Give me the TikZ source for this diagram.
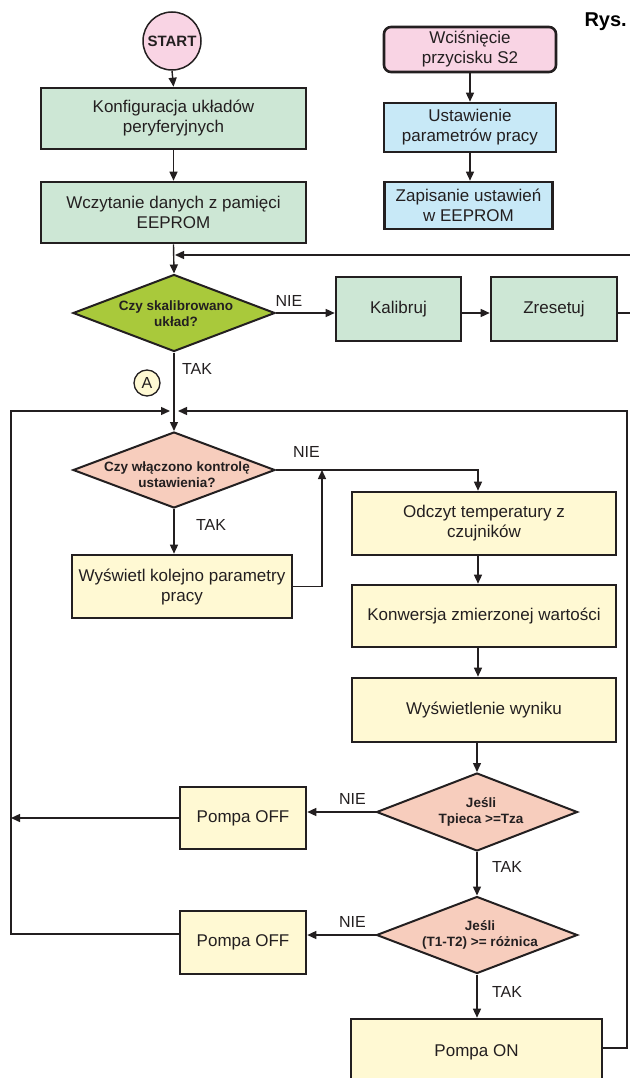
\documentclass[tikz,border=0pt]{standalone}
\usepackage{fontspec}
\setmainfont{Liberation Sans}
\usetikzlibrary{arrows.meta,shapes.geometric}
\definecolor{ink}{HTML}{231F20}
\definecolor{pinkf}{HTML}{F9D4E4}
\definecolor{mint}{HTML}{CDE7D5}
\definecolor{sky}{HTML}{C8E9F7}
\definecolor{lime}{HTML}{A9C93B}
\definecolor{salmon}{HTML}{F7CDBD}
\definecolor{cream}{HTML}{FFF9D3}
\begin{document}
\begin{tikzpicture}[x=1pt,y=-1pt,
  box/.style={draw=ink, line width=2.6pt, rectangle, inner sep=0pt, align=center,
    font=\fontsize{17}{20}\selectfont, text=ink},
  dia/.style={draw=ink, line width=2pt, diamond, inner sep=0pt},
  dtext/.style={font=\bfseries\fontsize{13.5}{16}\selectfont, align=center, text=ink},
  lbl/.style={font=\fontsize{16}{19}\selectfont, text=ink},
  conn/.style={draw=ink, line width=1.4pt},
  arr/.style={conn, -{Triangle[length=9pt,width=8pt]}},
]
\useasboundingbox (0,0) rectangle (629,1078);

% ---- top left column
\node[circle, draw=ink, line width=1.5pt, fill=pinkf, minimum size=58pt, inner sep=0pt,
  text=ink, font=\bfseries\fontsize{15}{18}\selectfont] (start) at (172,41) {START};
\node[box, fill=mint, minimum width=265pt, minimum height=61pt] (konf) at (173.5,118.5)
  {Konfiguracja układów\\peryferyjnych};
\node[box, fill=mint, minimum width=265pt, minimum height=61pt] (wczyt) at (173.5,212.5)
  {Wczytanie danych z pamięci\\EEPROM};

% ---- top right column
\node[box, fill=pinkf, rounded corners=7pt, minimum width=172pt, minimum height=45pt] (s2) at (470,49.5)
  {Wciśnięcie\\przycisku S2};
\node[box, fill=sky, minimum width=172pt, minimum height=49pt] (ust) at (470,127.5)
  {Ustawienie\\parametrów pracy};
\node[box, fill=sky, minimum width=168pt, minimum height=47pt] (zap) at (468.5,205.5)
  {Zapisanie ustawień\\w EEPROM};
\node[font=\bfseries\fontsize{20}{24}\selectfont, text=black, anchor=base west] (rys) at (581,27) {Rys.};

% ---- calibration
\node[dia, fill=lime, minimum width=202pt, minimum height=77pt] (d1) at (174,313) {};
\node[dtext] (d1t) at (176,314) {Czy skalibrowano\\układ?};
\node[box, fill=mint, minimum width=125pt, minimum height=64pt] (kal) at (398.5,309) {Kalibruj};
\node[box, fill=mint, minimum width=126pt, minimum height=64pt] (zres) at (554,309) {Zresetuj};
\node[lbl] (nie1) at (289,301) {NIE};
\node[lbl] (tak1) at (197,369) {TAK};
\node[circle, draw=ink, line width=1.3pt, fill=cream, minimum size=26pt, inner sep=0pt,
  text=ink, font=\fontsize{16}{19}\selectfont] (A) at (147,383) {A};

% ---- main loop
\coordinate (j) at (174,411);
\node[dia, fill=salmon, minimum width=202pt, minimum height=76pt] (d2) at (174,470) {};
\node[dtext] (d2t) at (177,475) {Czy włączono kontrolę\\ustawienia?};
\node[box, fill=cream, minimum width=220pt, minimum height=63pt] (wysw) at (182,586.5)
  {Wyświetl kolejno parametry\\pracy};
\node[lbl] (nie2) at (306.5,452) {NIE};
\node[lbl] (tak2) at (211,525) {TAK};

\node[box, fill=cream, minimum width=264pt, minimum height=63pt] (odc) at (484,523.5)
  {Odczyt temperatury z\\czujników};
\node[box, fill=cream, minimum width=264pt, minimum height=62pt] (konw) at (484,616)
  {Konwersja zmierzonej wartości};
\node[box, fill=cream, minimum width=264pt, minimum height=64pt] (wyn) at (484,710)
  {Wyświetlenie wyniku};

\node[dia, fill=salmon, minimum width=201pt, minimum height=78pt] (d3) at (477,812) {};
\node[dtext] (d3t) at (481,812) {Jeśli\\Tpieca >=Tza};
\node[dia, fill=salmon, minimum width=201pt, minimum height=77pt] (d4) at (477,935) {};
\node[dtext] (d4t) at (480,935) {Jeśli\\(T1-T2) >= różnica};

\node[box, fill=cream, minimum width=126pt, minimum height=62pt] (off1) at (243,818) {Pompa OFF};
\node[box, fill=cream, minimum width=126pt, minimum height=63pt] (off2) at (243,942.5) {Pompa OFF};
\node[box, fill=cream, minimum width=251pt, minimum height=66pt] (on) at (476.5,1052) {Pompa ON};

\node[lbl] (nie3) at (352.5,799) {NIE};
\node[lbl] (tak3) at (507,867) {TAK};
\node[lbl] (nie4) at (352.5,921.5) {NIE};
\node[lbl] (tak4) at (507,991.5) {TAK};

% ---- helper coordinates
\coordinate (m1) at (174,255);
\coordinate (zr1) at (645,313);
\coordinate (zr2) at (645,255);
\coordinate (c2) at (478,470);
\coordinate (c3) at (322,586.5);
\coordinate (lt) at (11,411);
\coordinate (rb) at (627,1048);
\coordinate (rt) at (627,411);

% ---- connectors
\draw[arr] (start.south) -- (konf.north);
\draw[arr] (konf.south) -- (wczyt.north);
\draw[arr] (wczyt.south) -- (d1.north);
\draw[arr] (s2.south) -- (ust.north);
\draw[arr] (ust.south) -- (ust.south |- zap.north);

\draw[arr] (d1.east) -- (d1.east -| kal.west);
\draw[arr] (kal.east |- d1.east) -- (zres.west |- d1.east);
\draw[arr, shorten >=1pt] (zres.east |- d1.east) -- (zr1) -- (zr2) -- (m1);

\draw[arr] (d1.south) -- (d2.north);
\draw[arr] (d2.south) -- (d2.south |- wysw.north);
\draw[arr] (d2.east) -- (c2) -- (c2 |- odc.north);
\draw[arr] (wysw.east) -- (c3) -- (c3 |- d2.east);

\draw[arr] (c2 |- odc.south) -- (c2 |- konw.north);
\draw[arr] (c2 |- konw.south) -- (c2 |- wyn.north);
\draw[arr] (d3.north |- wyn.south) -- (d3.north);
\draw[arr] (d3.south) -- (d4.north);
\draw[arr] (d4.south) -- (d4.south |- on.north);

\draw[arr] (d3.west) -- (d3.west -| off1.east);
\draw[arr] (d4.west) -- (d4.west -| off2.east);
\draw[arr] (off1.west) -- (off1.west -| lt);
\draw[arr, shorten >=4pt] ([yshift=8.5pt]off2.west) -| (lt) -- (j);
\draw[arr, shorten >=4pt] (on.east |- rb) -- (rb) -- (rt) -- (j);
\end{tikzpicture}
\end{document}
